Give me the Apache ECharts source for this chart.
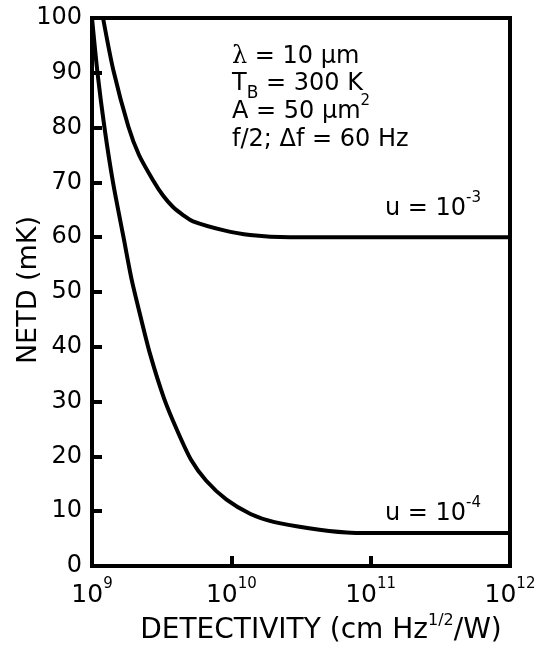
<!DOCTYPE html>
<html>
<head>
<meta charset="utf-8">
<script src="https://cdn.jsdelivr.net/npm/echarts@6/dist/echarts.min.js"></script>
<style>
  html, body { margin: 0; padding: 0; background: #fff; }
  #chart { width: 539px; height: 648px; }
</style>
</head>
<body>
<div id="chart"></div>
<script>
// Detectivity (cm Hz^1/2/W) and NETD (mK)
const detU3 = [1.20e9, 1.422e9, 1.823e9, 2.175e9, 2.741e9, 3.234e9, 3.815e9, 4.53e9, 5.311e9, 8.718e9, 1.362e10, 2.64e10, 1e11, 1e12];
const netdU3 = [100, 90.5, 80.2, 75.0, 70.4, 67.6, 65.5, 64.0, 62.9, 61.3, 60.4, 60.0, 60.0, 60.0];

const detU4 = [1.00e9, 1.095e9, 1.229e9, 1.415e9, 1.683e9, 1.928e9, 2.211e9, 2.609e9, 3.288e9, 4.11e9, 5.137e9, 6.582e9, 9.24e9, 1.373e10, 2.042e10, 3.612e10, 6.73e10, 1e11, 1e12];
const netdU4 = [100, 90, 80, 70, 60, 52.2, 45.9, 38.7, 30.6, 24.6, 19.4, 15.6, 12.1, 9.5, 8.0, 6.9, 6.1, 6.0, 6.0];

const xTickExponents = [9, 10, 11, 12];
const yTicks = [0, 10, 20, 30, 40, 50, 60, 70, 80, 90, 100];

const xTitle = '{n|DETECTIVITY (cm Hz}{sup|1/2}{n|/W)}';
const yTitle = 'NETD (mK)';

const seriesLabels = [
  { base: 'u = 10', sup: '-3' },
  { base: 'u = 10', sup: '-4' }
];

const FONT = 'DejaVu Sans';

function pairs(xs, ys) { return xs.map((x, i) => [x, ys[i]]); }

const chart = echarts.init(document.getElementById('chart'), null, { renderer: 'canvas' });

const supRich = {
  n: { fontFamily: FONT, fontSize: 24, color: '#000', lineHeight: 36 },
  sup: { fontFamily: FONT, fontSize: 15, color: '#000', lineHeight: 12, verticalAlign: 'top' },
  sub: { fontFamily: FONT, fontSize: 17, color: '#000', lineHeight: 12, verticalAlign: 'bottom' },
  gr: { fontFamily: 'DejaVu Serif', fontSize: 24, color: '#000', lineHeight: 36 }
};

function note(x, y, text) {
  return { type: 'text', x: x, y: y, silent: true,
    style: { text: text, rich: supRich, verticalAlign: 'middle' } };
}

const option = {
  animation: false,
  backgroundColor: '#fff',
  grid: {
    left: 92, right: 29, top: 18, bottom: 82,
    outerBoundsMode: 'none', containLabel: false,
    show: true, borderColor: '#000', borderWidth: 4, backgroundColor: 'transparent'
  },
  xAxis: {
    type: 'log', logBase: 10, min: 1e9, max: 1e12,
    axisLine: { lineStyle: { color: '#000', width: 4 } },
    axisTick: { inside: true, length: 10, lineStyle: { color: '#000', width: 4 } },
    minorTick: { show: false },
    splitLine: { show: false },
    axisLabel: {
      margin: 11,
      formatter: function (v) {
        const e = Math.round(Math.log10(v));
        return xTickExponents.indexOf(e) >= 0 ? '{b|10}{s|' + e + '}' : '';
      },
      rich: {
        b: { fontFamily: FONT, fontSize: 25, color: '#000', lineHeight: 36 },
        s: { fontFamily: FONT, fontSize: 15, color: '#000', lineHeight: 14, verticalAlign: 'top' }
      }
    },
    name: xTitle,
    nameLocation: 'middle',
    nameGap: 45,
    nameTextStyle: {
      padding: [0, 0, 0, 40],
      rich: {
        n: { fontFamily: FONT, fontSize: 28, color: '#000', lineHeight: 36 },
        sup: { fontFamily: FONT, fontSize: 16, color: '#000', lineHeight: 12, verticalAlign: 'top' }
      }
    }
  },
  yAxis: {
    type: 'value', min: 0, max: 100, interval: 10,
    axisLine: { lineStyle: { color: '#000', width: 4 } },
    axisTick: { inside: true, length: 10, lineStyle: { color: '#000', width: 4 } },
    splitLine: { show: false },
    axisLabel: {
      margin: 10, fontFamily: FONT, fontSize: 24, color: '#000',
      formatter: function (v) { return yTicks.indexOf(v) >= 0 ? String(v) : ''; }
    }
  },
  graphic: [
    { type: 'text', x: 29, y: 290, rotation: Math.PI / 2, silent: true,
      style: { text: yTitle, fontFamily: FONT, fontSize: 27, fill: '#000', align: 'center', verticalAlign: 'middle' } },
    note(232, 56.5, '{gr|\u03bb}{n| = 10 \u00b5m}'),
    note(232, 84, '{n|T}{sub|B}{n| = 300 K}'),
    note(232, 111.5, '{n|A = 50 \u00b5m}{sup|2}'),
    note(232, 140, '{n|f/2; \u0394f = 60 Hz}'),
    note(385, 208.5, '{n|' + seriesLabels[0].base + '}{sup|' + seriesLabels[0].sup + '}'),
    note(385, 513.5, '{n|' + seriesLabels[1].base + '}{sup|' + seriesLabels[1].sup + '}')
  ],
  series: [
    {
      name: 'u = 1e-3', type: 'line', data: pairs(detU3, netdU3),
      symbol: 'none', smooth: 0.25,
      lineStyle: { color: '#000', width: 4 }, z: 3
    },
    {
      name: 'u = 1e-4', type: 'line', data: pairs(detU4, netdU4),
      symbol: 'none', smooth: 0.25,
      lineStyle: { color: '#000', width: 4 }, z: 3
    }
  ]
};

chart.setOption(option);
</script>
</body>
</html>
